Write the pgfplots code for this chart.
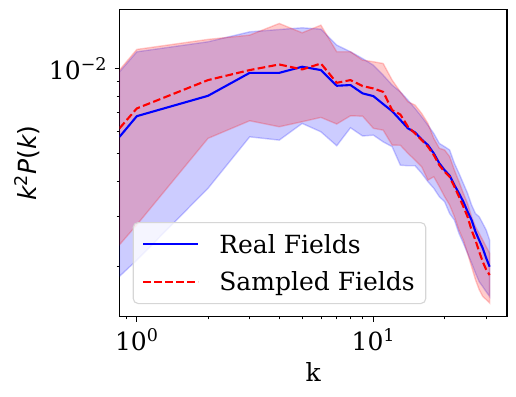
\documentclass[border=0pt]{standalone}
\usepackage{fontspec}
\setmainfont{DejaVu Serif}
\newfontfamily\dvsans{DejaVu Sans}
\usepackage{pgfplots}
\usepackage{pgfplotstable}
\pgfplotsset{compat=1.18}
\usepgfplotslibrary{fillbetween}

\newcommand{\fs}{\fontsize{25}{30}\selectfont}

% k, real line, sampled line, real upper/lower, sampled upper/lower
\pgfplotstableread{
k     bl       rl       bu       bd       ru       rd
0.845 5.74e-3  6.15e-3  9.73e-3  1.85e-3  9.87e-3  2.39e-3
1     6.79e-3  7.23e-3  11.45e-3 2.11e-3  11.67e-3 2.81e-3
2     8.01e-3  9.10e-3  12.42e-3 3.78e-3  12.66e-3 5.67e-3
3     9.65e-3  9.87e-3  13.46e-3 5.74e-3  13.11e-3 6.54e-3
4     9.65e-3  10.33e-3 13.72e-3 5.59e-3  14.41e-3 6.23e-3
5     10.14e-3 9.92e-3  13.91e-3 6.40e-3  13.36e-3 6.49e-3
6     9.87e-3  10.41e-3 13.76e-3 5.98e-3  14.21e-3 6.72e-3
7     8.69e-3  8.90e-3  12.09e-3 5.34e-3  11.45e-3 6.37e-3
8     8.74e-3  9.10e-3  11.45e-3 6.18e-3  11.45e-3 6.81e-3
9     8.17e-3  8.67e-3  10.84e-3 5.78e-3  10.70e-3 6.79e-3
10    7.99e-3  8.50e-3  10.27e-3 5.82e-3  10.56e-3 6.15e-3
11    7.49e-3  8.27e-3  9.47e-3  5.51e-3  10.41e-3 6.06e-3
12    7.07e-3  7.13e-3  8.74e-3  5.30e-3  9.10e-3  5.37e-3
13    6.58e-3  6.88e-3  8.27e-3  4.56e-3  8.27e-3  5.36e-3
14    6.15e-3  6.23e-3  7.73e-3  4.54e-3  7.63e-3  5.02e-3
15    5.95e-3  5.90e-3  7.23e-3  4.54e-3  7.43e-3  4.75e-3
16    5.62e-3  5.59e-3  6.76e-3  4.27e-3  6.94e-3  4.50e-3
17    5.37e-3  5.30e-3  6.31e-3  3.99e-3  6.40e-3  4.04e-3
18    5.02e-3  4.95e-3  5.90e-3  3.78e-3  5.67e-3  4.15e-3
19    4.63e-3  4.56e-3  5.44e-3  3.53e-3  5.23e-3  3.83e-3
20    4.38e-3  4.32e-3  5.30e-3  3.39e-3  5.16e-3  3.53e-3
21    4.19e-3  4.15e-3  5.16e-3  3.08e-3  4.89e-3  3.30e-3
22    3.88e-3  3.83e-3  4.63e-3  2.92e-3  4.38e-3  3.00e-3
23    3.63e-3  3.53e-3  4.27e-3  2.62e-3  3.99e-3  2.69e-3
24    3.39e-3  3.26e-3  3.93e-3  2.42e-3  3.63e-3  2.48e-3
25    3.13e-3  3.00e-3  3.63e-3  2.23e-3  3.34e-3  2.23e-3
26    2.92e-3  2.69e-3  3.30e-3  2.06e-3  3.00e-3  2.00e-3
27    2.66e-3  2.48e-3  3.08e-3  1.90e-3  2.77e-3  1.80e-3
28    2.48e-3  2.26e-3  3.00e-3  1.77e-3  2.62e-3  1.66e-3
29    2.32e-3  2.08e-3  2.84e-3  1.70e-3  2.48e-3  1.57e-3
30    2.14e-3  1.95e-3  2.69e-3  1.63e-3  2.35e-3  1.53e-3
31    2.00e-3  1.87e-3  2.48e-3  1.57e-3  2.23e-3  1.49e-3
}\spec

\begin{document}
\begin{tikzpicture}
\begin{axis}[
  xmode=log, ymode=log,
  scale only axis, width=387.5pt, height=307.2pt,
  xmin=0.845, xmax=36.7, ymin=1.333e-3, ymax=0.01614,
  xtick={1,10}, xticklabels={10\textsuperscript{0},10\textsuperscript{1}},
  minor xtick={0.9,2,3,4,5,6,7,8,9,20,30},
  ytick={0.01}, yticklabels={10\textsuperscript{−2}},
  minor ytick={0.002,0.003,0.004,0.005,0.006,0.007,0.008,0.009},
  tick pos=left, tick align=outside,
  major tick length=4.9pt, minor tick length=2.8pt,
  major tick style={black, line width=1.1pt},
  minor tick style={black, line width=0.8pt},
  axis line style={line width=1.1pt},
  tick label style={font=\fs},
  label style={font=\fs},
  xticklabel style={anchor=base, yshift=-28.5pt},
  yticklabel style={anchor=base east, xshift=-4pt, yshift=-11pt},
  xlabel={k},
  xlabel style={at={(axis description cs:0.5,-0.2116)}, anchor=base},
  ylabel={\dvsans\itshape k\textsuperscript{\upshape 2}P\upshape(\itshape k\upshape)},
  ylabel style={at={(axis description cs:-0.2374,0.5)}, anchor=center},
  legend cell align=left,
  legend image code/.code={\draw[#1] (0pt,0pt) -- (55pt,0pt);},
  legend style={at={(0.034,0.041)}, anchor=south west, draw=black!16,
    line width=1.1pt, rounded corners=5pt, fill=white, fill opacity=0.8,
    text opacity=1, font=\fs, inner xsep=9pt, inner ysep=9.5pt, row sep=13pt,
    /tikz/every odd column/.append style={column sep=18pt}},
]
\addplot[draw=none, name path=bu, forget plot] table[x=k, y=bu] {\spec};
\addplot[draw=none, name path=bd, forget plot] table[x=k, y=bd] {\spec};
\addplot[fill=blue, fill opacity=0.2, draw=blue, draw opacity=0.2,
  line width=1.4pt, forget plot] fill between[of=bu and bd];
\addplot[draw=none, name path=ru, forget plot] table[x=k, y=ru] {\spec};
\addplot[draw=none, name path=rd, forget plot] table[x=k, y=rd] {\spec};
\addplot[fill=red, fill opacity=0.2, draw=red, draw opacity=0.2,
  line width=1.4pt, forget plot] fill between[of=ru and rd];

\addplot[blue, line width=2.1pt, line join=round] table[x=k, y=bl] {\spec};
\addlegendentry{Real Fields}
\addplot[red, line width=2.1pt, line join=round, dash pattern=on 7.7pt off 3.3pt]
  table[x=k, y=rl] {\spec};
\addlegendentry{Sampled Fields}
\end{axis}
\pgfresetboundingbox
\path[use as bounding box] (-119.5pt,-79.3pt) rectangle (396.5pt,316.7pt);
\end{tikzpicture}
\end{document}
